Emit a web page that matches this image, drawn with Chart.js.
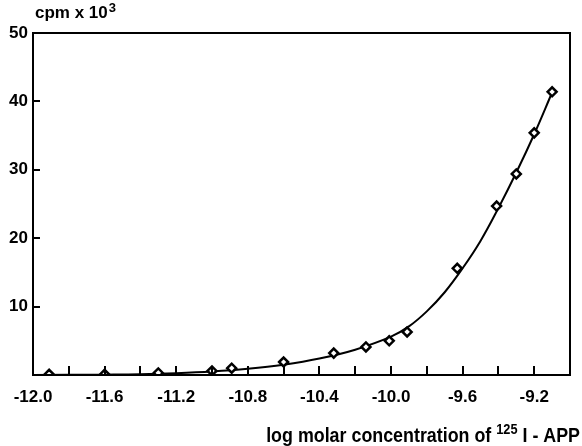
<!DOCTYPE html>
<html>
<head>
<meta charset="utf-8">
<script src="https://cdn.jsdelivr.net/npm/chart.js@4/dist/chart.umd.min.js"></script>
<style>
  body { margin: 0; background: #fff; }
  #graph { display: block; }
</style>
</head>
<body>
<canvas id="graph" width="582" height="446"></canvas>
<script>
"use strict";

// measured points (log molar conc. / cpm x 10^3)
const point_x = [-11.91, -11.60, -11.30, -11.00, -10.89, -10.60, -10.32, -10.14, -10.01, -9.91, -9.63, -9.41, -9.30, -9.20, -9.10];
const point_y = [0.1, 0.1, 0.3, 0.6, 1.0, 1.9, 3.2, 4.1, 5.0, 6.3, 15.6, 24.7, 29.4, 35.4, 41.4];

// fitted curve
const curve_x = [-12.0, -11.6, -11.4, -11.2, -11.0, -10.8, -10.6, -10.4, -10.2, -10.0, -9.9, -9.8, -9.7, -9.6, -9.5, -9.4, -9.3, -9.2, -9.1];
const curve_y = [0.0, 0.05, 0.1, 0.25, 0.5, 0.9, 1.5, 2.4, 3.7, 5.6, 7.1, 9.3, 12.1, 15.6, 19.6, 24.4, 29.6, 35.2, 41.3];

const x_min = -12.0;
const x_max = -9.0;
const y_min = 0;
const y_max = 50;

const font_family = "'Liberation Sans', Arial, Helvetica, sans-serif";

function to_xy(xs, ys) {
  let out = [];
  xs.forEach((x, i) => {
    out.push({ x: x, y: ys[i] });
  });
  return out;
}

// frame, inward ticks and titles with superscripts
const frame_plugin = {
  id: "frame",
  afterDraw(chart) {
    const ctx = chart.ctx;
    const area = chart.chartArea;
    const sx = chart.scales.x;
    const sy = chart.scales.y;
    ctx.save();
    ctx.strokeStyle = "#000";
    ctx.lineWidth = 2;
    ctx.strokeRect(area.left, area.top, area.right - area.left, area.bottom - area.top);

    ctx.beginPath();
    sx.ticks.forEach((t) => {
      if (t.value <= x_min + 0.01 || t.value >= x_max - 0.01) return;
      const px = Math.round(sx.getPixelForValue(t.value));
      ctx.moveTo(px, area.bottom);
      ctx.lineTo(px, area.bottom - 9);
    });
    sy.ticks.forEach((t) => {
      if (t.value <= y_min || t.value >= y_max) return;
      const py = Math.round(sy.getPixelForValue(t.value));
      ctx.moveTo(area.left, py);
      ctx.lineTo(area.left + 7, py);
    });
    ctx.stroke();

    ctx.fillStyle = "#000";
    ctx.textBaseline = "alphabetic";
    ctx.textAlign = "left";

    // y title
    ctx.font = "bold 17px " + font_family;
    const y_main = "cpm x 10";
    ctx.fillText(y_main, 35, 18);
    const w1 = ctx.measureText(y_main).width;
    ctx.font = "bold 13px " + font_family;
    ctx.fillText("3", 35 + w1 + 1, 12);

    // x title, right aligned, slightly condensed like the original
    const squeeze = 0.85;
    const part_a = "log molar concentration of ";
    const part_sup = "125";
    const part_b = " I - APP";
    ctx.font = "bold 21px " + font_family;
    const wa = ctx.measureText(part_a).width;
    const wb = ctx.measureText(part_b).width;
    ctx.font = "bold 15px " + font_family;
    const ws = ctx.measureText(part_sup).width;
    const total = (wa + ws + wb) * squeeze;
    const start = 580 - total;
    const base = 442;
    ctx.translate(start, base);
    ctx.scale(squeeze, 1);
    ctx.font = "bold 21px " + font_family;
    ctx.fillText(part_a, 0, 0);
    ctx.font = "bold 15px " + font_family;
    ctx.fillText(part_sup, wa, -8);
    ctx.font = "bold 21px " + font_family;
    ctx.fillText(part_b, wa + ws, 0);
    ctx.restore();
  },
};

const config = {
  type: "scatter",
  data: {
    datasets: [
      {
        label: "fit",
        data: to_xy(curve_x, curve_y),
        showLine: true,
        borderColor: "#000",
        borderWidth: 2,
        pointRadius: 0,
        tension: 0.4,
        order: 2,
      },
      {
        label: "measured",
        data: to_xy(point_x, point_y),
        showLine: false,
        pointStyle: "rectRot",
        pointRadius: 4.5,
        pointBorderWidth: 2.5,
        pointBorderColor: "#000",
        pointBackgroundColor: "#fff",
        order: 1,
      },
    ],
  },
  options: {
    responsive: false,
    animation: false,
    layout: { padding: { top: 33, right: 3, left: 0, bottom: 0 } },
    plugins: {
      legend: { display: false },
      tooltip: { enabled: false },
    },
    scales: {
      x: {
        type: "linear",
        min: x_min,
        max: x_max,
        afterFit: (scale) => {
          scale.height = 71;
        },
        grid: { display: false, drawTicks: false },
        border: { display: false },
        ticks: {
          stepSize: 0.2,
          padding: 12,
          autoSkip: false,
          maxRotation: 0,
          color: "#000",
          font: { family: font_family, size: 17, weight: "bold" },
          callback: function (value) {
            const tenths = Math.round(value * 10);
            if (tenths % 4 !== 0 || tenths === -90) return "";
            return (tenths / 10).toFixed(1);
          },
        },
      },
      y: {
        type: "linear",
        min: y_min,
        max: y_max,
        afterFit: (scale) => {
          scale.width = 33;
        },
        grid: { display: false, drawTicks: false },
        border: { display: false },
        ticks: {
          stepSize: 10,
          padding: 5,
          color: "#000",
          font: { family: font_family, size: 17, weight: "bold" },
          callback: function (value) {
            return value === 0 ? "" : value;
          },
        },
      },
    },
  },
  plugins: [frame_plugin],
};

new Chart(document.getElementById("graph"), config);
</script>
</body>
</html>
